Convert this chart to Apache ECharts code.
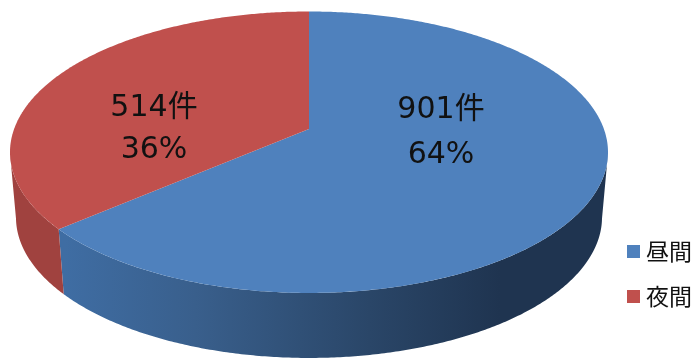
<!DOCTYPE html>
<html><head><meta charset="utf-8">
<style>html,body{margin:0;padding:0;background:#fff}#c{width:695px;height:358px}</style>
<script src="https://cdn.jsdelivr.net/npm/echarts@6/dist/echarts.min.js"></script>
</head><body><div id="c"></div>
<script>
const categories = ['昼間', '夜間'];
const values = [901, 514];
const topColors = ['#4f81bd', '#c0504d'];
const labelUnit = '件';

const total = values.reduce((a, b) => a + b, 0);
const CX = 309, AY = 129, K = 0.165, RX = 294.9, RY = 136.9, DEPTH = 65, SHRINK = 0.98;
const VIS_FROM = 100, VIS_TO = 260;
const labelPos = [[441, 110, 155], [154, 108, 150]];

function project(deg, lower) {
  const t = deg * Math.PI / 180, u = Math.sin(t), v = -Math.cos(t), w = 1 - K * v;
  let x = RX * u / w, y = AY + RY * v / w;
  if (lower) { x *= SHRINK; y += DEPTH; }
  return [CX + x, y];
}
function arc(a, b, lower) {
  const n = Math.max(2, Math.ceil(Math.abs(b - a) * 2)), pts = [];
  for (let i = 0; i <= n; i++) pts.push(project(a + (b - a) * i / n, lower));
  return pts;
}
const angles = [];
let acc = 0;
values.forEach(v => { angles.push([acc / total * 360, (acc + v) / total * 360]); acc += v; });

const sideFill = [
  new echarts.graphic.LinearGradient(65, 0, 500, 0, [
    { offset: 0, color: '#3f6da3' }, { offset: 0.3, color: '#395f8c' },
    { offset: 0.7, color: '#2a4668' }, { offset: 1, color: '#1f3450' }
  ], true),
  '#a0423f'
];

const series = categories.map((name, i) => ({
  name, type: 'custom', coordinateSystem: 'none', silent: true, animation: false,
  itemStyle: { color: topColors[i] },
  data: [[values[i]]],
  renderItem: () => {
    const [a, b] = angles[i];
    const s = Math.max(a, VIS_FROM), e = Math.min(b, VIS_TO);
    const pct = Math.round(values[i] / total * 100);
    const [lx, ly1, ly2] = labelPos[i];
    const font = '30px "DejaVu Sans", "Noto Sans CJK JP"';
    return { type: 'group', children: [
      { type: 'polygon', shape: { points: arc(s, e, false).concat(arc(e, s, true)) },
        style: { fill: sideFill[i] } },
      { type: 'polygon', shape: { points: [[CX, AY]].concat(arc(a, b, false)) },
        style: { fill: topColors[i] } },
      { type: 'text', style: { x: lx, y: ly1, text: values[i] + labelUnit, font, fill: '#111',
        textAlign: 'center', textVerticalAlign: 'middle' } },
      { type: 'text', style: { x: lx, y: ly2, text: pct + '%', font, fill: '#111',
        textAlign: 'center', textVerticalAlign: 'middle' } }
    ] };
  }
}));

const chart = echarts.init(document.getElementById('c'), null, { renderer: 'canvas' });
chart.setOption({
  backgroundColor: '#fff',
  animation: false,
  legend: {
    data: categories, orient: 'vertical', left: 627, top: 240, padding: 0,
    icon: 'rect', itemWidth: 13, itemHeight: 13, itemGap: 22, selectedMode: false,
    textStyle: { fontFamily: '"Noto Sans CJK JP"', fontSize: 23, color: '#111', padding: [0, 0, 0, 1] }
  },
  series
});
</script></body></html>
